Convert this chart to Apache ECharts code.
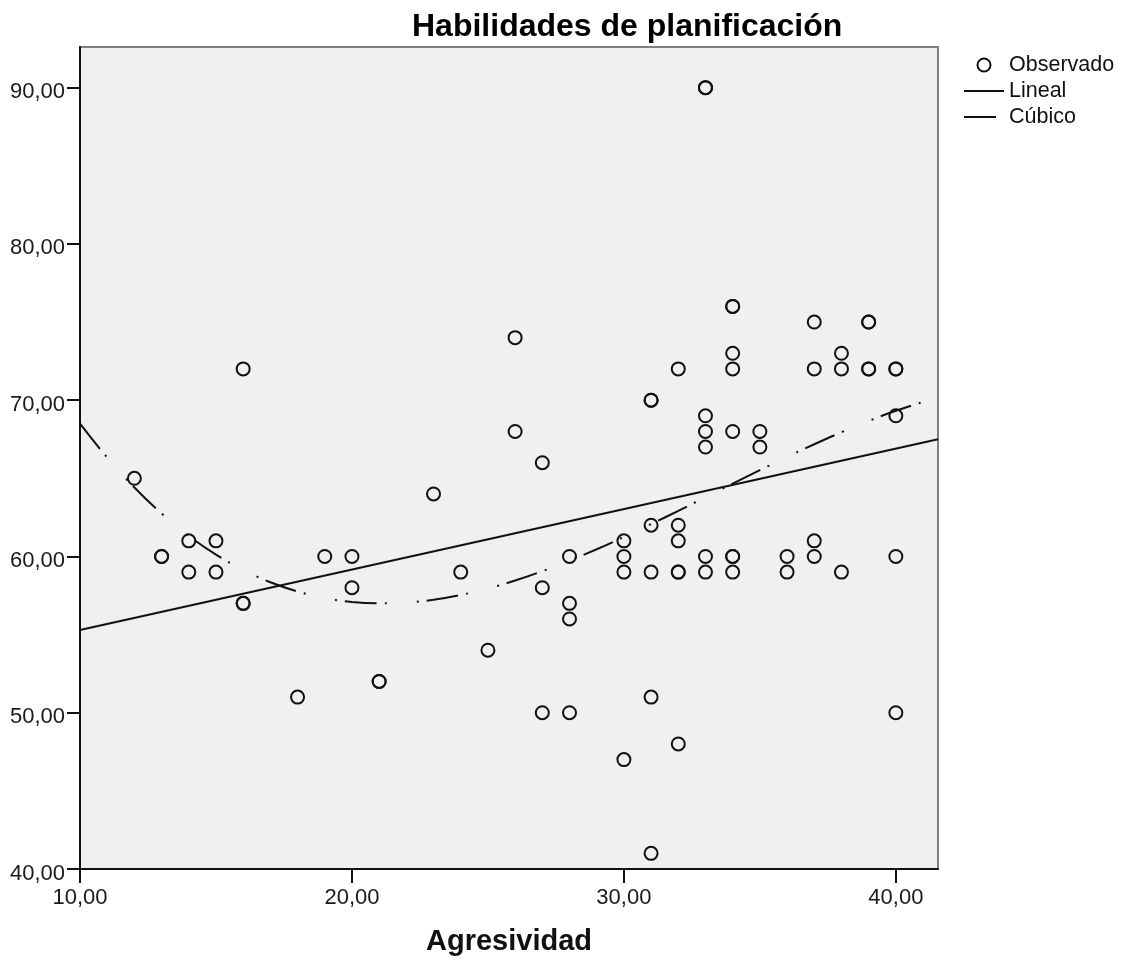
<!DOCTYPE html>
<html>
<head>
<meta charset="utf-8">
<script src="https://cdn.jsdelivr.net/npm/echarts@6/dist/echarts.min.js"></script>
<style>
html,body{margin:0;padding:0;background:#fff;}
#chart{width:1122px;height:961px;}
</style>
</head>
<body>
<div id="chart"></div>
<script>
// ---- Data ----
const titleText = 'Habilidades de planificación';
const xAxisName = 'Agresividad';
const seriesNames = ['Observado', 'Lineal', 'Cúbico'];
const xTicks = [10, 20, 30, 40];
const yTicks = [40, 50, 60, 70, 80, 90];

// Observed points (Agresividad, Habilidades de planificación)
const obsX = [12, 13, 13, 14, 14, 15, 15, 16, 16, 16, 18, 19, 20, 20, 21, 21, 23, 24, 25, 26, 26,
  27, 27, 27, 28, 28, 28, 28, 30, 30, 30, 30, 31, 31, 31, 31, 31, 31, 32, 32, 32, 32, 32, 32,
  33, 33, 33, 33, 33, 33, 33, 34, 34, 34, 34, 34, 34, 34, 34, 35, 35, 36, 36, 37, 37, 37, 37,
  38, 38, 38, 39, 39, 39, 39, 40, 40, 40, 40, 40];
const obsY = [65, 60, 60, 61, 59, 61, 59, 72, 57, 57, 51, 60, 60, 58, 52, 52, 64, 59, 54, 74, 68,
  66, 58, 50, 60, 57, 56, 50, 61, 60, 59, 47, 70, 70, 62, 59, 51, 41, 72, 62, 61, 59, 59, 48,
  90, 90, 69, 68, 67, 60, 59, 76, 76, 73, 72, 68, 60, 60, 59, 68, 67, 60, 59, 75, 72, 61, 60,
  73, 72, 59, 75, 75, 72, 72, 72, 72, 69, 60, 50];

// Linear fit line (read at the plot edges)
const linX = [10, 41.55];
const linY = [55.3, 67.5];

// Cubic fit curve
const cubX = [10, 11, 12, 13, 14, 15, 16, 17, 18, 19, 20, 21, 22, 23, 24, 25, 26, 27, 28, 29, 30,
  31, 32, 33, 34, 35, 36, 37, 38, 39, 40, 41.55];
const cubY = [68.5, 66.33, 64.41, 62.75, 61.32, 60.12, 59.14, 58.35, 57.76, 57.34, 57.09, 57.0,
  57.05, 57.23, 57.54, 57.95, 58.46, 59.06, 59.73, 60.46, 61.25, 62.07, 62.92, 63.79, 64.66,
  65.52, 66.37, 67.18, 67.95, 68.67, 69.32, 70.2];

// ---- Build chart ----
const zip = (xs, ys) => xs.map((x, i) => [x, ys[i]]);
const fmt = v => v.toFixed(2).replace('.', ',');
const FONT = '"Liberation Sans", Arial, sans-serif';
const noSymbol = {color: 'rgba(0,0,0,0)', borderColor: 'rgba(0,0,0,0)', borderWidth: 0};

const chart = echarts.init(document.getElementById('chart'), null, {renderer: 'canvas'});
chart.setOption({
  animation: false,
  backgroundColor: '#ffffff',
  title: {
    text: titleText,
    left: 412,
    top: 11,
    padding: 0,
    textStyle: {fontFamily: FONT, fontSize: 32, fontWeight: 'bold', color: '#000'}
  },
  legend: {
    orient: 'vertical',
    left: 963,
    top: 54,
    padding: 0,
    itemGap: 4,
    itemWidth: 40,
    itemHeight: 13,
    selectedMode: false,
    data: [
      {name: seriesNames[0]},
      {name: seriesNames[1], itemStyle: noSymbol},
      {name: seriesNames[2], itemStyle: noSymbol}
    ],
    textStyle: {fontFamily: FONT, fontSize: 21.5, color: '#111', lineHeight: 22}
  },
  grid: {
    left: 80, right: 184, top: 47, bottom: 92,
    show: true,
    backgroundColor: '#f0f0f0',
    borderColor: '#808080',
    borderWidth: 2
  },
  xAxis: {
    type: 'value',
    min: 10, max: 41.55,
    interval: 10,
    name: xAxisName,
    nameLocation: 'middle',
    nameGap: 58,
    nameTextStyle: {fontFamily: FONT, fontSize: 29, fontWeight: 'bold', color: '#111'},
    axisLine: {show: true, onZero: false, lineStyle: {color: '#111', width: 2}},
    axisTick: {show: true, length: 14, customValues: xTicks, lineStyle: {color: '#111', width: 2}},
    axisLabel: {customValues: xTicks, formatter: fmt, margin: 18,
      fontFamily: FONT, fontSize: 22, color: '#1a1a1a'},
    splitLine: {show: false}
  },
  yAxis: {
    type: 'value',
    min: 40, max: 92.6,
    interval: 10,
    axisLine: {show: true, onZero: false, lineStyle: {color: '#111', width: 2}},
    axisTick: {show: true, length: 13, customValues: yTicks, lineStyle: {color: '#111', width: 2}},
    axisLabel: {customValues: yTicks, margin: 15,
      formatter: v => '{a|' + fmt(v) + '}',
      rich: {a: {fontFamily: FONT, fontSize: 22, color: '#1a1a1a', lineHeight: 22, padding: [9, 0, 0, 0]}},
      fontFamily: FONT, fontSize: 22, color: '#1a1a1a'},
    splitLine: {show: false}
  },
  series: [
    {
      name: seriesNames[0],
      type: 'scatter',
      data: zip(obsX, obsY),
      symbol: 'circle',
      symbolSize: 13,
      itemStyle: {color: 'rgba(0,0,0,0)', borderColor: '#111', borderWidth: 2, opacity: 1},
      z: 3
    },
    {
      name: seriesNames[1],
      type: 'line',
      data: zip(linX, linY),
      symbol: 'none',
      lineStyle: {color: '#111', width: 2, type: 'solid'},
      itemStyle: {color: '#111'},
      z: 4
    },
    {
      name: seriesNames[2],
      type: 'line',
      data: zip(cubX, cubY),
      symbol: 'none',
      smooth: 0.4,
      lineStyle: {color: '#111', width: 2, type: [32, 8, 2, 30, 2, 8]},
      itemStyle: {color: '#111'},
      z: 4
    }
  ]
});
</script>
</body>
</html>
